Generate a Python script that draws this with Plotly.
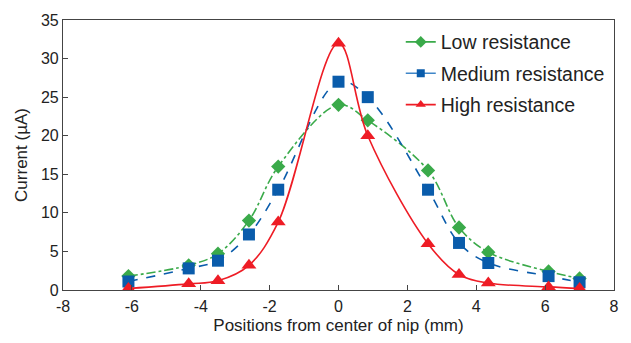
import plotly.graph_objects as go

x = [-6.1, -4.35, -3.5, -2.6, -1.75, 0, 0.85, 2.6, 3.5, 4.35, 6.1, 7.0]
low = [1.8, 3.2, 4.7, 9.0, 16.0, 24.0, 22.0, 15.5, 8.1, 4.9, 2.4, 1.5]
medium = [1.1, 2.8, 3.8, 7.2, 13.0, 27.0, 25.0, 13.0, 6.1, 3.5, 1.8, 1.0]
high = [0.2, 0.8, 1.2, 3.2, 8.8, 32.0, 20.0, 6.0, 2.0, 0.9, 0.4, 0.2]

x_ticks = [-8, -6, -4, -2, 0, 2, 4, 6, 8]
y_ticks = [0, 5, 10, 15, 20, 25, 30, 35]

names = ["Low resistance", "Medium resistance", "High resistance"]
colors = ["#3AAA4A", "#0A5CAB", "#EE1C25"]
legend_line_colors = ["#3AAA4A", "#3F86C8", "#EE1C25"]
symbols = ["diamond", "square", "triangle-up"]
dashes = ["dashdot", "dash", "solid"]
sizes = [11, 12, 13]
legend_sizes = [9, 8, 9]

FONT = "Liberation Sans, Arial"

fig = go.Figure()
for i, (name, ys, c, s, d, sz) in enumerate(zip(names, [low, medium, high], colors, symbols, dashes, sizes)):
    fig.add_trace(go.Scatter(
        x=x, y=ys, name=name, mode="lines+markers", showlegend=False,
        line=dict(color=c, width=1.6, dash=d, shape="spline", smoothing=1.0),
        marker=dict(symbol=s, size=sz, color=c),
    ))
# legend entries (small symbols, solid line, as in the reference legend)
for i, (name, c, lc, s, lsz) in enumerate(zip(names, colors, legend_line_colors, symbols, legend_sizes)):
    fig.add_trace(go.Scatter(
        x=[None], y=[None], name=name, mode="lines+markers", legendgroup=f"g{i}",
        line=dict(color=lc, width=1.6),
        marker=dict(symbol=s, size=lsz, color=c),
    ))

axis_common = dict(
    showline=True, linecolor="#444", linewidth=1.2, mirror=True,
    ticks="inside", ticklen=5, tickcolor="#444",
    showgrid=False, zeroline=False,
    tickfont=dict(family=FONT, size=16, color="#222"),
)
fig.update_xaxes(range=[-8, 8], tickvals=x_ticks, ticktext=[str(v) for v in x_ticks],
                 ticklabelstandoff=2,
                 title=dict(text="Positions from center of nip (mm)", standoff=4,
                            font=dict(family=FONT, size=17, color="#222")),
                 **axis_common)
fig.update_yaxes(range=[0, 35], tickvals=y_ticks, ticktext=[str(v) for v in y_ticks],
                 title=dict(text="Current (µA)", standoff=8,
                            font=dict(family=FONT, size=17, color="#222")),
                 **axis_common)

fig.update_layout(
    width=631, height=343,
    margin=dict(l=63, r=12, t=15, b=50),
    paper_bgcolor="white", plot_bgcolor="white",
    legend=dict(x=0.613, y=0.99, xanchor="left", yanchor="top",
                font=dict(family=FONT, size=19.5, color="#222"),
                bgcolor="rgba(0,0,0,0)", itemwidth=30, tracegroupgap=3),
    showlegend=True,
)

fig.write_html("out.html")
